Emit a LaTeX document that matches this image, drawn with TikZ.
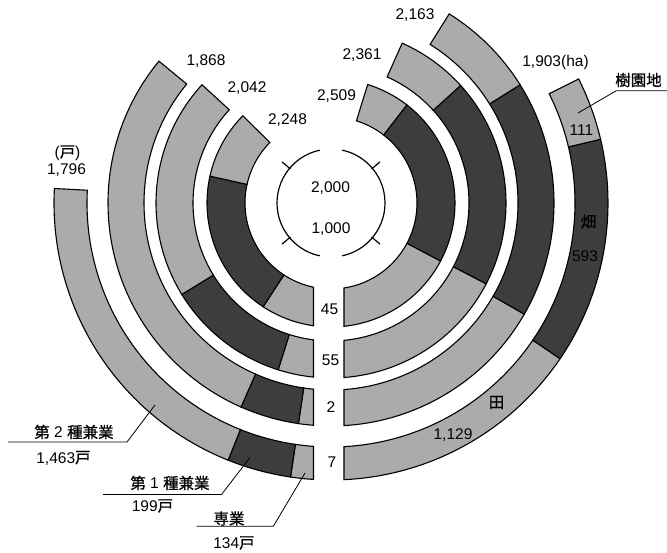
\documentclass[tikz,border=0pt]{standalone}
\usepackage{fontspec}
\setmainfont{Liberation Sans}
\newfontfamily\jp[FakeBold=0.8]{Noto Sans CJK JP}
\begin{document}
\tikzset{
 lt/.style={draw=black, line width=1.1pt, fill=black!33},
 dk/.style={draw=black, line width=1.1pt, fill=black!76},
 lab/.style={font=\fontsize{15.5}{18}\selectfont, inner sep=0pt},
 lead/.style={draw=black, line width=0.8pt},
 scl/.style={draw=black, line width=1.2pt},
}
\begin{tikzpicture}[x=1pt,y=1pt]
\useasboundingbox (0,0) rectangle (667,552);
\fill[white] (0,0) rectangle (667,552);
\begin{scope}[shift={(331,349)}]
% left rings (households)
\foreach \ri/\ro/\ba/\bb/\en in {86/124/236.8/167.5/135.3, 138/175/252.4/211.5/137.5, 187/223/261.6/246.2/140.5, 244/277/261.6/248.2/177}{
 \draw[lt] ({270-asin(17.5/\ro)}:\ro) arc[start angle={270-asin(17.5/\ro)}, end angle=\ba, radius=\ro] -- (\ba:\ri) arc[start angle=\ba, end angle={270-asin(17.5/\ri)}, radius=\ri] -- cycle;
 \draw[dk] (\ba:\ro) arc[start angle=\ba, end angle=\bb, radius=\ro] -- (\bb:\ri) arc[start angle=\bb, end angle=\ba, radius=\ri] -- cycle;
 \draw[lt] (\bb:\ro) arc[start angle=\bb, end angle=\en, radius=\ro] -- (\en:\ri) arc[start angle=\en, end angle=\bb, radius=\ri] -- cycle;
}
% right rings (area)
\foreach \ri/\ro/\ba/\bb/\en in {86/124/-27.9/52.3/72.8, 138/175/-27.5/42.2/66, 187/223/-29.9/32/58, 244/277/-34.2/13.3/26.6}{
 \draw[lt] ({-90+asin(13/\ro)}:\ro) arc[start angle={-90+asin(13/\ro)}, end angle=\ba, radius=\ro] -- (\ba:\ri) arc[start angle=\ba, end angle={-90+asin(13/\ri)}, radius=\ri] -- cycle;
 \draw[dk] (\ba:\ro) arc[start angle=\ba, end angle=\bb, radius=\ro] -- (\bb:\ri) arc[start angle=\bb, end angle=\ba, radius=\ri] -- cycle;
 \draw[lt] (\bb:\ro) arc[start angle=\bb, end angle=\en, radius=\ro] -- (\en:\ri) arc[start angle=\en, end angle=\bb, radius=\ri] -- cycle;
}
% scale circle
\draw[scl] (102:54) arc[start angle=102, end angle=258, radius=54];
\draw[scl] (-78:54) arc[start angle=-78, end angle=78, radius=54];
\foreach \a in {40,140,220,320}{\draw[scl] (\a:53) -- (\a:64);}
\end{scope}
% value labels
\node[lab] (u) at (67.5,399) {({\jp 戸})};
\node[lab] (v1796) at (66.5,382) {1,796};
\node[lab] (v1868) at (206,491) {1,868};
\node[lab] (v2042) at (247,464) {2,042};
\node[lab] (v2248) at (287.5,432) {2,248};
\node[lab] (v2509) at (336.5,456) {2,509};
\node[lab] (v2361) at (362,497) {2,361};
\node[lab] (v2163) at (415,537) {2,163};
\node[lab] (v1903) at (555.5,490) {1,903(ha)};
\node[lab] (s2000) at (330.5,364) {2,000};
\node[lab] (s1000) at (331,323) {1,000};
\node[lab] (y45) at (329.5,243) {45};
\node[lab] (y55) at (330.5,192) {55};
\node[lab] (y2) at (331,145) {2};
\node[lab] (y7) at (332,90) {7};
\node[lab] (n111) at (581.5,422) {111};
\node[lab] (hatake) at (588.5,330.5) {\jp 畑};
\node[lab] (n593) at (585,296) {593};
\node[lab] (ta) at (496.5,149.5) {\jp 田};
\node[lab] (n1129) at (453,116.5) {1,129};
\node[lab] (jue) at (638.5,472) {\jp 樹園地};
\node[lab] (k2) at (74,120) {{\jp 第} 2 {\jp 種兼業}};
\node[lab] (k2n) at (63.5,94) {1,463{\jp 戸}};
\node[lab] (k1) at (170,69) {{\jp 第} 1 {\jp 種兼業}};
\node[lab] (k1n) at (152.5,46) {199{\jp 戸}};
\node[lab] (sen) at (229,33.5) {\jp 専業};
\node[lab] (senn) at (234,9) {134{\jp 戸}};
% leaders
\coordinate (jA) at (578,439);
\coordinate (jB) at (616.3,461.3);
\coordinate (jC) at (667,461.3);
\draw[lead] (jA) -- (jB) -- (jC);
\coordinate (aA) at (155,147);
\coordinate (aB) at (127,110);
\coordinate (aC) at (8,110);
\draw[lead] (aA) -- (aB) -- (aC);
\coordinate (bA) at (250,94.5);
\coordinate (bB) at (221.5,57.5);
\coordinate (bC) at (103,57.5);
\draw[lead] (bA) -- (bB) -- (bC);
\coordinate (cA) at (305,79);
\coordinate (cB) at (273.3,25.7);
\coordinate (cC) at (196.7,25.7);
\draw[lead] (cA) -- (cB) -- (cC);
\end{tikzpicture}
\end{document}
